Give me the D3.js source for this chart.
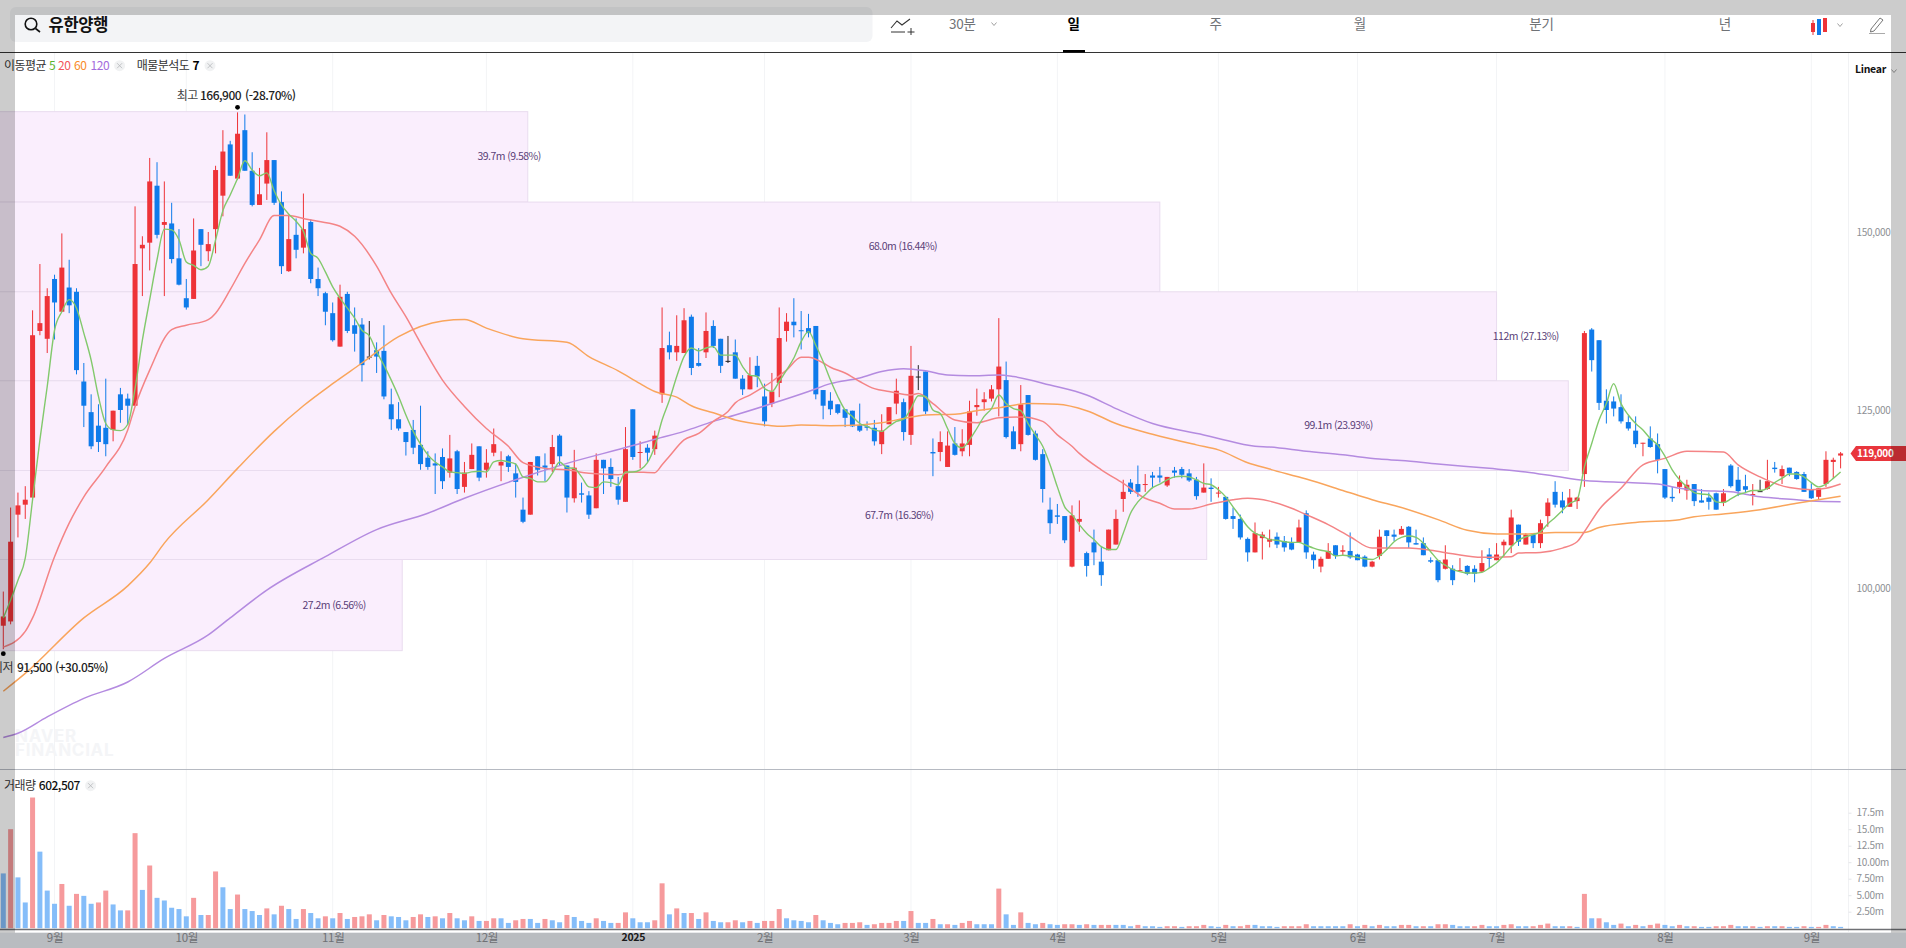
<!DOCTYPE html>
<html lang="ko">
<head>
<meta charset="utf-8">
<title>유한양행</title>
<script src="https://cdn.jsdelivr.net/npm/d3@7"></script>
<style>
  html, body { margin: 0; padding: 0; background: #fff; overflow: hidden; }
  text { font-family: "Noto Sans CJK KR", "Noto Sans", sans-serif; }
</style>
</head>
<body>
<svg id="chart" width="1906" height="948"></svg>
<script>
const open = [
94800,95400,110400,111800,112800,136200,135100,143500,138900,142300,
141700,129100,124800,122900,122600,122300,127300,126700,125700,147800,
148600,156600,151100,151300,146400,140800,140700,150500,147400,150500,
155200,162400,157600,164400,158700,153900,156900,160200,154300,144600,
149700,147900,151500,143500,141500,138700,134000,141400,137000,137100,
132600,133500,133400,125900,123800,122000,122300,120200,118400,117600,
118500,116300,119300,114300,116800,120000,116700,119100,117300,118600,
116200,111100,110400,118600,117300,117500,121500,117300,112700,113400,
113100,111300,118100,117100,114400,112200,125200,119100,119800,119600,
127300,134200,133200,133100,138200,131700,133200,136900,135100,132000,
133200,129500,128000,131300,127000,126000,128900,136200,137500,136300,
136600,136900,127900,126400,125900,125200,125000,123000,122800,122600,
120300,123100,126000,126200,121600,129800,130500,119200,119200,117100,
120400,119300,120200,125500,126200,126700,128000,129300,122100,120300,
127200,121800,118900,111100,110300,110200,103100,109400,105000,106500,
103800,105400,106200,112600,114900,114700,114600,115900,115900,114500,
116600,116800,116200,115300,113500,114200,113400,112900,110200,109800,
107000,105100,107100,106600,107300,106700,106400,106500,110600,104800,
103100,104200,106100,105200,105300,104800,104500,103100,104600,108200,
107600,107600,108700,106400,106400,104000,104000,102800,102800,102500,
103200,102800,102400,104800,104000,106100,106100,109000,106200,107600,
106400,110200,113600,112400,111500,112300,116100,136400,134900,126400,
126300,125500,123400,122200,120400,121100,120300,116800,112900,114300,
113800,114700,112400,112800,113400,112100,117300,115300,114400,113100,
113700,114000,117000,115800,117000,116400,116100,114000,112900,114700,
117800,118700];
const high = [
99600,111400,113500,114400,139100,145600,142200,144100,149900,146200,
142200,131700,127300,125900,129500,125000,128200,127400,153700,149500,
160500,159900,157200,154200,150500,143500,152000,150500,150100,159400,
164400,162900,166900,166600,161300,159100,164100,160200,155800,152500,
152000,155500,151900,145100,141700,140200,142700,141700,139500,138000,
137600,134600,137000,128100,126200,122000,123700,125700,119300,119000,
119700,121600,119500,117800,120400,120000,119600,122500,119300,118800,
117600,112800,117800,118600,119000,121600,121700,117300,119500,114900,
113700,119000,118100,118300,115700,122700,125200,120700,120300,122200,
139500,136100,138400,139400,138500,133800,138800,137700,135100,135500,
135000,130000,132500,132700,128800,130300,139500,138700,140800,139000,
138600,136900,127900,127600,125900,125200,125000,126000,123500,123700,
124500,125500,129500,126700,134100,131400,130500,121100,122100,122100,
122700,122400,126400,128100,127600,128600,138000,131900,122800,128600,
127200,122200,119600,112800,111900,110200,111700,112400,105200,108300,
106000,108300,111100,115300,115400,117300,116100,116400,117100,115700,
117100,117100,116800,115700,117600,115500,114300,112900,111400,110400,
107200,109300,108000,108300,107900,107400,107200,109700,111000,105200,
104500,106400,106100,106100,107900,104900,104700,103900,108300,108200,
108300,108800,108800,108300,107200,104400,104000,106100,103300,104300,
103300,103300,105400,105700,106400,106900,111100,109000,107800,107800,
109700,112700,115100,113600,114000,112900,136200,136600,134900,128000,
127000,127300,124300,124200,120500,122800,121800,116800,114300,115900,
115300,114700,114000,113500,113500,114000,117500,117100,116000,114700,
115300,118100,117800,117300,117000,116500,116400,114800,114100,119300,
118400,119200];
const low = [
91500,95000,107200,109800,112800,135600,133100,135000,138900,138700,
130100,122700,119600,119200,118600,120700,123300,123000,125700,141100,
144700,149200,141100,145700,142600,139200,140700,145300,146000,147100,
152300,158000,157400,158700,153700,153900,154600,153900,144200,144500,
146400,147100,142900,141100,137000,134700,134000,135900,133300,129100,
132200,130300,126600,122300,122200,118700,118900,116700,116700,113300,
114000,115600,113300,113500,116800,115100,115600,118600,115100,116400,
112800,109200,110400,115900,115100,116400,117300,110700,112100,112100,
109800,111300,113300,114300,111800,112200,118100,116900,117800,118800,
126100,132200,132000,133100,130000,131200,132400,133800,130300,131700,
129500,127200,128000,128300,122800,125500,126900,134700,135300,133600,
135300,126600,123800,124400,124500,122700,122700,122000,122200,120100,
118900,123100,124500,120800,120200,127900,124500,115800,117900,117100,
118700,118600,118600,124300,125000,126300,124200,121100,119600,119300,
121500,118000,112100,107700,109100,106400,103000,108000,101700,103300,
100400,105400,106200,110800,113300,112900,113600,114100,114900,114300,
115600,115500,115000,112500,113500,112200,112800,109700,108400,106900,
103800,105100,104100,105800,105700,105200,105400,106500,104200,102800,
102300,104200,104200,104700,104200,104000,103000,103000,104100,105600,
106700,107600,105700,106200,104700,103600,100900,102700,100500,102500,
101900,100900,102300,102900,104000,104500,105000,106000,106200,105700,
105700,108700,111400,110600,111500,111200,114300,130500,125100,123200,
124200,123200,122200,119800,118600,119800,116200,112600,112200,113400,
112500,111600,112100,111100,111100,111600,114200,113000,113500,111700,
113600,113900,116300,114700,115800,115300,113600,112600,112600,114300,
115500,116900];
const close = [
96100,106600,111700,112500,135600,137300,141100,140200,145100,139800,
130700,125700,120000,120600,120300,125000,125100,125700,145600,148300,
157200,149700,151500,146300,142700,139500,147500,148300,148400,158800,
161400,158000,163900,158700,153900,155400,160200,154200,145300,149100,
147600,150500,143500,142200,138900,134900,141000,136200,135800,131400,
132600,132600,127000,123800,122500,120600,119800,117500,117100,117300,
115100,118300,114000,116300,118800,115600,117700,120300,117800,117100,
115000,109400,117800,116700,117000,119900,118600,112800,117000,113200,
110400,118100,116900,115400,112500,119600,118500,119200,119100,121500,
133800,133200,134100,137700,131000,131300,136200,134100,131300,132000,
129500,128000,130000,129800,123500,127700,135200,137500,137000,136200,
135900,127300,125700,125200,124700,124000,122800,122200,122600,120700,
122200,125500,127800,122000,129900,129800,124900,119000,120600,120100,
118800,120400,124900,125800,126600,128000,131200,121300,119600,125900,
121600,118100,114000,109200,110100,106800,110300,109800,103200,105100,
101900,108300,109800,113600,113600,113600,114700,115600,115600,115700,
116300,116000,115200,113000,114200,114000,113500,109800,109800,107200,
105100,107800,107600,107000,106200,105800,105500,108600,105100,104000,
104200,105300,104600,105400,104400,104000,103100,103800,107300,107400,
107300,108400,106500,106200,104700,103800,101200,104100,101200,102600,
102100,102100,103600,104200,104800,106600,110000,106600,107600,106400,
109200,112100,111800,111400,112800,112800,135900,132100,126100,125100,
125300,123500,122500,120300,120500,119900,118100,112800,112700,115000,
114600,112300,112100,112200,111100,113400,114400,113700,113900,113300,
113700,115100,116800,116800,116200,115400,113600,112700,114100,118100,
118100,119000];

const volume = [
8.3,15.0,7.7,3.9,19.8,11.6,5.7,3.7,6.7,3.4,
5.2,4.9,3.7,3.9,5.7,3.6,2.7,2.7,14.4,5.8,
9.5,4.6,4.2,3.1,2.9,1.8,4.6,2.0,2.0,8.6,
6.2,2.9,5.1,2.9,2.6,2.0,3.0,2.1,3.4,2.9,
1.4,2.9,2.3,1.5,1.8,1.5,2.3,1.4,1.7,1.8,
2.1,1.2,2.0,1.8,1.7,1.2,1.7,2.1,1.7,1.8,
1.5,2.3,1.5,1.2,1.8,1.1,1.1,1.5,1.5,0.8,
1.2,1.4,1.4,0.8,1.4,1.2,0.9,2.0,1.7,1.1,
0.8,1.5,1.1,0.8,0.8,2.4,1.5,0.9,0.9,1.2,
6.8,2.1,3.0,2.3,2.3,1.4,2.4,1.1,0.9,0.9,
1.2,0.9,1.1,0.8,1.1,1.1,2.9,1.5,1.2,1.1,
0.9,2.0,1.2,0.8,0.6,0.8,0.8,0.9,0.5,0.6,
0.8,0.8,1.1,1.1,2.6,0.8,0.8,1.4,0.6,0.6,
0.5,0.8,1.1,0.6,0.6,0.6,6.0,2.1,0.5,2.4,
0.8,0.6,0.8,0.6,0.5,0.6,0.6,0.5,0.6,0.5,
0.5,0.5,0.5,0.5,0.3,0.5,0.3,0.3,0.2,0.3,
0.3,0.2,0.3,0.3,0.5,0.3,0.2,0.5,0.3,0.3,
0.5,0.5,0.3,0.3,0.2,0.3,0.3,0.3,0.6,0.3,
0.3,0.3,0.3,0.3,0.6,0.3,0.5,0.3,0.5,0.3,
0.3,0.5,0.5,0.3,0.3,0.3,0.6,0.6,0.5,0.3,
0.3,0.3,0.5,0.3,0.3,0.5,0.6,0.3,0.3,0.3,
0.5,0.7,0.3,0.3,0.3,0.2,5.2,1.5,1.5,0.9,
0.5,0.7,0.3,0.5,0.3,0.5,0.7,0.5,0.3,0.5,
0.3,0.3,0.2,0.2,0.3,0.3,0.5,0.3,0.3,0.3,
0.2,0.3,0.3,0.3,0.2,0.2,0.3,0.2,0.2,0.5,
0.3,0.2];
// r = 상승, b = 하락
const volumeDir = (
  "brbbrbbbrb" + "rbbrrbbrrb" + "rbbbbbrbrr" + "bbrbbbrbrb" + "brbbrbrbrr" +
  "rbrbbbrrbr" + "brbbrbrrbb" + "rrbbrbbrbb" + "brbbrrbbbr" + "rbrbrbrbbr" +
  "rbrbrrrbbb" + "brbbbrrrbr" + "rrrbrbbrbr" + "brrbbbrbbr" + "bbrbbrrbrb" +
  "rrbbbrbbbr" + "rbrrrbbrbr" + "rbbbbrrrrb" + "bbbbrbrbrb" + "brrbrbrrbb" +
  "brrbbrrbbr" + "rrbbrbrbrb" + "brbrbrrbbr" + "brbbrrrbbr" + "brbrbbrbrr" + "bb"
).split("");

const ma5 = [
95900,98400,101200,104300,112500,120900,128400,136300,138900,140600,
139400,135900,132100,127000,123200,122300,122200,123100,128100,134900,
140600,146200,150500,150400,149000,145900,145400,144800,145300,149000,
153100,155300,157600,160100,158800,158000,158400,155900,153900,152600,
151600,150200,147100,146400,144500,142400,140800,139400,138000,136300,
135500,133300,131400,129300,127000,124400,122100,120300,118800,117800,
117100,116400,116300,116200,116400,116500,116400,117800,118000,117800,
117500,115700,115500,115000,115000,116200,117800,117000,116900,115700,
114300,114200,115000,114900,114600,116400,116400,116700,117700,120000,
123700,126500,129800,132600,133800,133400,133800,134000,132800,132800,
132800,131200,130000,129800,128100,127700,129100,130700,132400,134700,
136100,134200,131900,129300,127000,125100,124200,123200,122800,122300,
122100,122800,123500,123800,125300,127100,127000,125100,124600,122500,
120400,119800,120900,122500,124200,125300,127200,126000,125300,125000,
123200,121600,120000,117400,114300,111500,110400,109000,107800,106900,
105900,105500,105500,107800,110600,112200,113200,114200,114700,115300,
115700,115800,115700,115300,114800,114600,113900,112900,111500,110100,
108700,107800,107400,106900,106800,106600,106500,106500,106100,105700,
105400,105200,104600,104700,104600,104400,104200,104100,104600,105500,
106600,107200,107400,107200,106400,105200,104000,103300,102700,102400,
102200,102200,102300,102900,103600,104700,105900,106800,107300,107600,
108000,109100,110000,111000,112000,112500,117100,120400,123700,126000,
128800,126000,124400,123200,122300,121100,120200,118600,116700,115300,
114300,113500,113300,113200,112200,112100,112600,113200,113500,113800,
113800,114100,114900,115500,116100,116100,115700,114900,114300,114700,
115500,116400];

const ma20Idx = [0,3,4,7,9,11,14,17,18,20,23,25,28,29,31,33,35,37,39,41,43,46,48,51,53,55,57,60,63,66,69,71,74,77,80,84,
  86,89,90,91,93,95,97,99,100,102,105,107,109,110,112,113,115,117,119,121,124,125,127,130,133,136,139,142,144,146,147,150,153,156,158,160,162,165,168,170,
  173,176,178,181,184,187,192,195,198,202,206,207,210,213,215,216,218,221,224,227,230,235,237,240,242,244,247,249,251];
const ma20 = [91800,94000,95900,104500,109200,112900,117100,122300,125600,130700,136400,137000,137800,138700,142000,145700,149000,152400,152400,152000,151600,150900,149500,145300,141500,138200,134500,129300,125600,122500,120000,117700,116900,116700,116200,116000,
  116400,116300,117400,118600,120900,121800,123500,124900,126100,127200,129100,130700,132500,132500,131700,131100,130300,129100,128100,127700,127200,127400,126000,123700,123300,124000,124100,123500,121600,120000,119000,116700,114800,112700,112000,111200,111200,111900,112500,112700,
  112300,111300,110400,109000,107300,105700,105700,105400,104900,104400,104500,105000,105100,105700,106600,108000,111100,114100,117400,118300,119300,119200,117400,115700,114800,114200,113900,114100,114700];

const ma60Idx = [0,3,11,17,20,22,28,32,37,41,45,49,54,60,63,66,71,77,80,84,87,
  89,92,94,97,100,104,106,109,113,117,120,123,126,130,133,136,140,144,148,152,157,163,166,170,173,
  178,183,187,191,196,200,204,208,212,216,218,223,229,231,235,240,245,251];
const ma60 = [85600,88100,95900,100400,103600,106400,112500,116900,122100,125700,128800,131700,135400,137600,137800,136600,135100,134600,132600,130600,128800,
  127700,126900,125700,124700,123700,123000,122800,123000,122900,123000,123300,123900,124400,124500,125000,125400,126000,125900,125000,123200,121700,120200,119500,117700,116800,
  115400,113800,112500,111400,109700,108200,107700,107700,107900,107900,108600,109300,109700,110100,110500,111100,112000,113000];

const ma120Idx = [0,2,6,11,17,22,28,31,36,44,51,58,63,70,77,
  86,89,93,97,100,105,110,113,117,120,123,126,129,132,136,138,143,148,152,157,164,166,171,173,
  178,183,188,191,196,203,208,212,216,222,226,229,232,236,240,245,247,251];
const ma120 = [79100,79700,82000,84600,86900,90200,93500,95900,99800,104500,108300,110600,112700,115300,117600,
  120100,121000,122100,123500,124400,126000,127700,128800,129600,130500,130900,130600,130000,129900,130000,129800,128600,127200,125300,123200,121600,121100,120000,119900,
  119300,118800,118200,118000,117500,116900,116400,115800,115200,114900,114700,114100,113800,113600,112900,112500,112300,112200];

const priceTicks = [100000,125000,150000];
const volumeTicks = [2.5,5,7.5,10,12.5,15,17.5];
const volumeTickLabels = ["2.50m","5.00m","7.50m","10.00m","12.5m","15.0m","17.5m"];
const monthIdx = [7,25,45,66,86,104,124,144,166,185,204,227,247];
const monthLabels = ["9월","10월","11월","12월","2025","2월","3월","4월","5월","6월","7월","8월","9월"];
const periodLabels = ["일","주","월","분기","년"];

// 매물분석도
const profileEdges = [167000,154300,141700,129200,116600,104100,91300];
const profileEnd = [71.65,158,204,213.8,164.4,54.5];
const profileLabels = ["39.7m (9.58%)","68.0m (16.44%)","112m (27.13%)","99.1m (23.93%)","67.7m (16.36%)","27.2m (6.56%)"];
const profileLabelAt = [69.1,122.9,208,182.4,122.4,45.2];

const RED = "#ee3338", BLUE = "#0f7bea";
const svg = d3.select("#chart");

const x = d3.scaleLinear().domain([0, 251]).range([3.3, 1840.6]);
const y = d3.scaleLinear().domain([100000, 150000]).range([588.7, 232.7]);
const yv = d3.scaleLinear().domain([0, 17.5]).range([928.2, 812.7]);
const n = d3.range(open.length);

// vertical grid
svg.append("g").selectAll("line").data(monthIdx).join("line")
  .attr("x1", d => x(d)).attr("x2", d => x(d))
  .attr("y1", 53).attr("y2", 932)
  .attr("stroke", "#f3f4f6");
svg.append("line").attr("x1", 1848.5).attr("x2", 1848.5).attr("y1", 53).attr("y2", 932).attr("stroke", "#f1f2f4");

// volume profile bands
const bands = svg.append("g");
bands.selectAll("rect").data(profileEnd).join("rect")
  .attr("x", -2)
  .attr("y", (d, i) => y(profileEdges[i]))
  .attr("width", d => x(d) + 2)
  .attr("height", (d, i) => y(profileEdges[i + 1]) - y(profileEdges[i]))
  .attr("fill", "#faeefd")
  .attr("stroke", "#e9dcef");
bands.selectAll("text").data(profileLabels).join("text")
  .attr("x", (d, i) => x(profileLabelAt[i]))
  .attr("y", (d, i) => (y(profileEdges[i]) + y(profileEdges[i + 1])) / 2 + 3.5)
  .attr("text-anchor", "middle")
  .attr("font-size", 10.5)
  .attr("letter-spacing", "-0.55")
  .attr("fill", "#5a3f78")
  .text(d => d);

// watermark
svg.append("text").attr("x", 15).attr("y", 742).attr("font-size", 17).attr("font-weight", 700).attr("letter-spacing", "0.7").attr("style", "font-family:Inter").attr("fill", "#f4f5f7").text("NAVER");
svg.append("text").attr("x", 15).attr("y", 756).attr("font-size", 17).attr("font-weight", 700).attr("letter-spacing", "0.7").attr("style", "font-family:Inter").attr("fill", "#f4f5f7").text("FINANCIAL");

// candles
const candleColor = i => close[i] > open[i] ? RED : close[i] < open[i] ? BLUE : "#222";
const candles = svg.append("g");
candles.selectAll("line").data(n).join("line")
  .attr("x1", i => x(i)).attr("x2", i => x(i))
  .attr("y1", i => y(high[i])).attr("y2", i => y(low[i]))
  .attr("stroke", candleColor).attr("stroke-width", 1);
candles.selectAll("rect").data(n).join("rect")
  .attr("x", i => x(i) - 2.5)
  .attr("width", 5)
  .attr("y", i => y(Math.max(open[i], close[i])))
  .attr("height", i => Math.max(1, Math.abs(y(open[i]) - y(close[i]))))
  .attr("fill", candleColor);

// moving averages
const lineFor = (idx, vals, color, w) => {
  const gen = d3.line().curve(d3.curveMonotoneX).x(d => x(d[0])).y(d => y(d[1]));
  svg.append("path").datum(d3.zip(idx, vals))
    .attr("d", gen).attr("fill", "none")
    .attr("stroke", color).attr("stroke-width", w).attr("stroke-linejoin", "round");
};
lineFor(ma120Idx, ma120, "#b48be0", 1.5);
lineFor(ma60Idx, ma60, "#f9a55c", 1.5);
lineFor(ma20Idx, ma20, "#f48486", 1.5);
lineFor(n, ma5, "#82c96c", 1.4);

// high / low markers
const hiIdx = d3.maxIndex(high), loIdx = d3.minIndex(low);
svg.append("circle").attr("cx", x(hiIdx)).attr("cy", y(high[hiIdx]) - 5).attr("r", 2.4).attr("fill", "#000");
svg.append("circle").attr("cx", x(loIdx)).attr("cy", y(low[loIdx]) + 4.5).attr("r", 2.4).attr("fill", "#000");

// one line of text with parts placed one by one
const legend = (yp, parts) => {
  const t = svg.append("text").attr("y", yp).attr("font-size", 12).attr("letter-spacing", "-0.5");
  parts.forEach(p => t.append("tspan").attr("x", p[0]).attr("fill", p[2]).attr("font-weight", p[3] || 400).text(p[1]));
};
legend(100, [[176.7, "최고", "#444"], [200, "166,900", "#222", 500], [245, "(-28.70%)", "#222", 500]]);
legend(672, [[-8, "최저", "#444"], [17, "91,500", "#222", 500], [55, "(+30.05%)", "#222", 500]]);

// volume bars
svg.append("g").selectAll("rect").data(n).join("rect")
  .attr("x", i => x(i) - 2.5).attr("width", 5)
  .attr("y", i => yv(volume[i]))
  .attr("height", i => yv(0) - yv(volume[i]))
  .attr("fill", i => volumeDir[i] === "r" ? "#f69a9c" : "#85bdf9");

// right axes
const priceAxis = svg.append("g").attr("transform", "translate(1848.5,0)")
  .call(d3.axisRight(y).tickValues(priceTicks).tickSize(0).tickPadding(8).tickFormat(d3.format(",")));
const volAxis = svg.append("g").attr("transform", "translate(1848.5,0)")
  .call(d3.axisRight(yv).tickValues(volumeTicks).tickSize(3).tickPadding(5).tickFormat((d, i) => volumeTickLabels[i]));
[priceAxis, volAxis].forEach(a => {
  a.select(".domain").remove();
  a.selectAll("line").attr("stroke", "#e4e6e9");
  a.selectAll("text").attr("fill", "#8d9095").attr("font-size", 10).attr("letter-spacing", "-0.3")
    .attr("style", 'font-family:"Noto Sans CJK KR", sans-serif');
});

// panes
svg.append("line").attr("x1", 0).attr("x2", 1906).attr("y1", 769.5).attr("y2", 769.5).attr("stroke", "#b6bac2").attr("stroke-width", 1);

// bottom strip and month axis
svg.append("rect").attr("x", 0).attr("y", 932.7).attr("width", 1906).attr("height", 16).attr("fill", "#e8ebf0");
svg.append("line").attr("x1", 0).attr("x2", 1906).attr("y1", 929.5).attr("y2", 929.5).attr("stroke", "#6f7175").attr("stroke-width", 1.6);
const monthAxis = svg.append("g").attr("transform", "translate(0,933)")
  .call(d3.axisBottom(x).tickValues(monthIdx).tickSize(0).tickPadding(1).tickFormat((d, i) => monthLabels[i]));
monthAxis.select(".domain").remove();
monthAxis.selectAll("text")
  .attr("font-size", d => d === 86 ? 10.5 : 11.5).attr("letter-spacing", "-0.3")
  .attr("style", 'font-family:"Noto Sans CJK KR", sans-serif')
  .attr("fill", d => d === 86 ? "#222" : "#8b8e93")
  .attr("font-weight", d => d === 86 ? 700 : 400);

// last price tag
const lastY = y(close[close.length - 1]);
svg.append("path")
  .attr("d", `M1850.5,${lastY} L1856,${lastY - 7.5} H1906 V${lastY + 7.5} H1856 Z`)
  .attr("fill", "#e9363d");
svg.append("text").attr("x", 1857).attr("y", lastY + 3.6).attr("font-size", 10).attr("font-weight", 700)
  .attr("letter-spacing", "-0.3").attr("fill", "#fff").text(d3.format(",")(close[close.length - 1]));

// Linear selector
svg.append("text").attr("x", 1855).attr("y", 73).attr("font-size", 10.5).attr("font-weight", 700).attr("letter-spacing", "-0.3").attr("fill", "#111").text("Linear");
const chevron = (cx, cy, c) => svg.append("path").attr("d", `M${cx - 2.5},${cy - 1.5} L${cx},${cy + 1.5} L${cx + 2.5},${cy - 1.5}`).attr("fill", "none").attr("stroke", c).attr("stroke-width", 0.8);
chevron(1894, 71, "#888");

// legends
const closeBtn = (cx, cy) => {
  svg.append("circle").attr("cx", cx).attr("cy", cy).attr("r", 5.5).attr("fill", "#f1f2f3");
  svg.append("path").attr("d", `M${cx - 2.5},${cy - 2.5} L${cx + 2.5},${cy + 2.5} M${cx + 2.5},${cy - 2.5} L${cx - 2.5},${cy + 2.5}`).attr("stroke", "#b5b7ba").attr("stroke-width", 0.8);
};
legend(70, [[4, "이동평균", "#333"], [49, "5", "#5ab52f"], [58, "20", "#f2555a"], [74, "60", "#f98c28"], [90.6, "120", "#a46bdc"]]);
closeBtn(119.6, 65.7);
legend(70, [[136.7, "매물분석도", "#333"], [192.6, "7", "#000", 700]]);
closeBtn(210, 65.7);
legend(790, [[4, "거래량", "#333"], [38.8, "602,507", "#111", 500]]);
closeBtn(90.6, 785.7);

// header
svg.append("rect").attr("x", 0).attr("y", 0).attr("width", 1906).attr("height", 52).attr("fill", "#fff");
svg.append("rect").attr("x", 10).attr("y", 7).attr("width", 862.5).attr("height", 35).attr("rx", 6).attr("fill", "#f3f4f6");
svg.append("circle").attr("cx", 31).attr("cy", 24).attr("r", 5.8).attr("fill", "none").attr("stroke", "#111").attr("stroke-width", 1.6);
svg.append("line").attr("x1", 35.5).attr("y1", 28.5).attr("x2", 40).attr("y2", 32).attr("stroke", "#111").attr("stroke-width", 1.6);
svg.append("text").attr("x", 48.5).attr("y", 31).attr("font-size", 16.5).attr("font-weight", 700).attr("fill", "#111").attr("letter-spacing", "-0.3").text("유한양행");
svg.append("line").attr("x1", 0).attr("x2", 1906).attr("y1", 52.5).attr("y2", 52.5).attr("stroke", "#333").attr("stroke-width", 1.1);

// toolbar
svg.append("path").attr("d", "M891,28 L897,21 L902,25 L910,19").attr("fill", "none").attr("stroke", "#333").attr("stroke-width", 1.1);
svg.append("path").attr("d", "M891,32 H905 M911,28 V35 M907.5,32 H914.5").attr("fill", "none").attr("stroke", "#333").attr("stroke-width", 1);
svg.append("text").attr("x", 949).attr("y", 29).attr("font-size", 13.5).attr("letter-spacing", "-0.3").attr("fill", "#6f7276").text("30분");
chevron(994, 24, "#888");
const periodX = [1073.6, 1215.7, 1360, 1541.6, 1725];
svg.append("g").selectAll("text").data(periodLabels).join("text")
  .attr("x", (d, i) => periodX[i]).attr("y", 29).attr("text-anchor", "middle")
  .attr("font-size", 13.5)
  .attr("font-weight", (d, i) => i === 0 ? 700 : 400)
  .attr("fill", (d, i) => i === 0 ? "#000" : "#6f7276")
  .text(d => d);
svg.append("rect").attr("x", 1063).attr("y", 50).attr("width", 22).attr("height", 2.5).attr("fill", "#000");
svg.append("line").attr("x1", 1813).attr("x2", 1813).attr("y1", 20).attr("y2", 35).attr("stroke", RED);
svg.append("rect").attr("x", 1811).attr("y", 23).attr("width", 4).attr("height", 9).attr("fill", RED);
svg.append("rect").attr("x", 1817).attr("y", 19).attr("width", 4).attr("height", 16).attr("fill", BLUE);
svg.append("rect").attr("x", 1823).attr("y", 18).attr("width", 4).attr("height", 14).attr("fill", RED);
chevron(1840, 25, "#888");
svg.append("path").attr("d", "M1871,29 L1880,18 L1883,20 L1874,31 L1870.5,32 Z").attr("fill", "none").attr("stroke", "#666").attr("stroke-width", 0.9);
svg.append("line").attr("x1", 1869).attr("x2", 1885).attr("y1", 33.5).attr("y2", 33.5).attr("stroke", "#aaa");

// dimmed browser edges
const dim = (a, b, w, h) => svg.append("rect").attr("x", a).attr("y", b).attr("width", w).attr("height", h).attr("fill", "#000").attr("fill-opacity", 0.2);
dim(0, 0, 1906, 15);
dim(0, 15, 15, 933);
dim(1891, 15, 15, 933);
dim(15, 932.7, 1876, 15.3);
</script>
</body>
</html>
